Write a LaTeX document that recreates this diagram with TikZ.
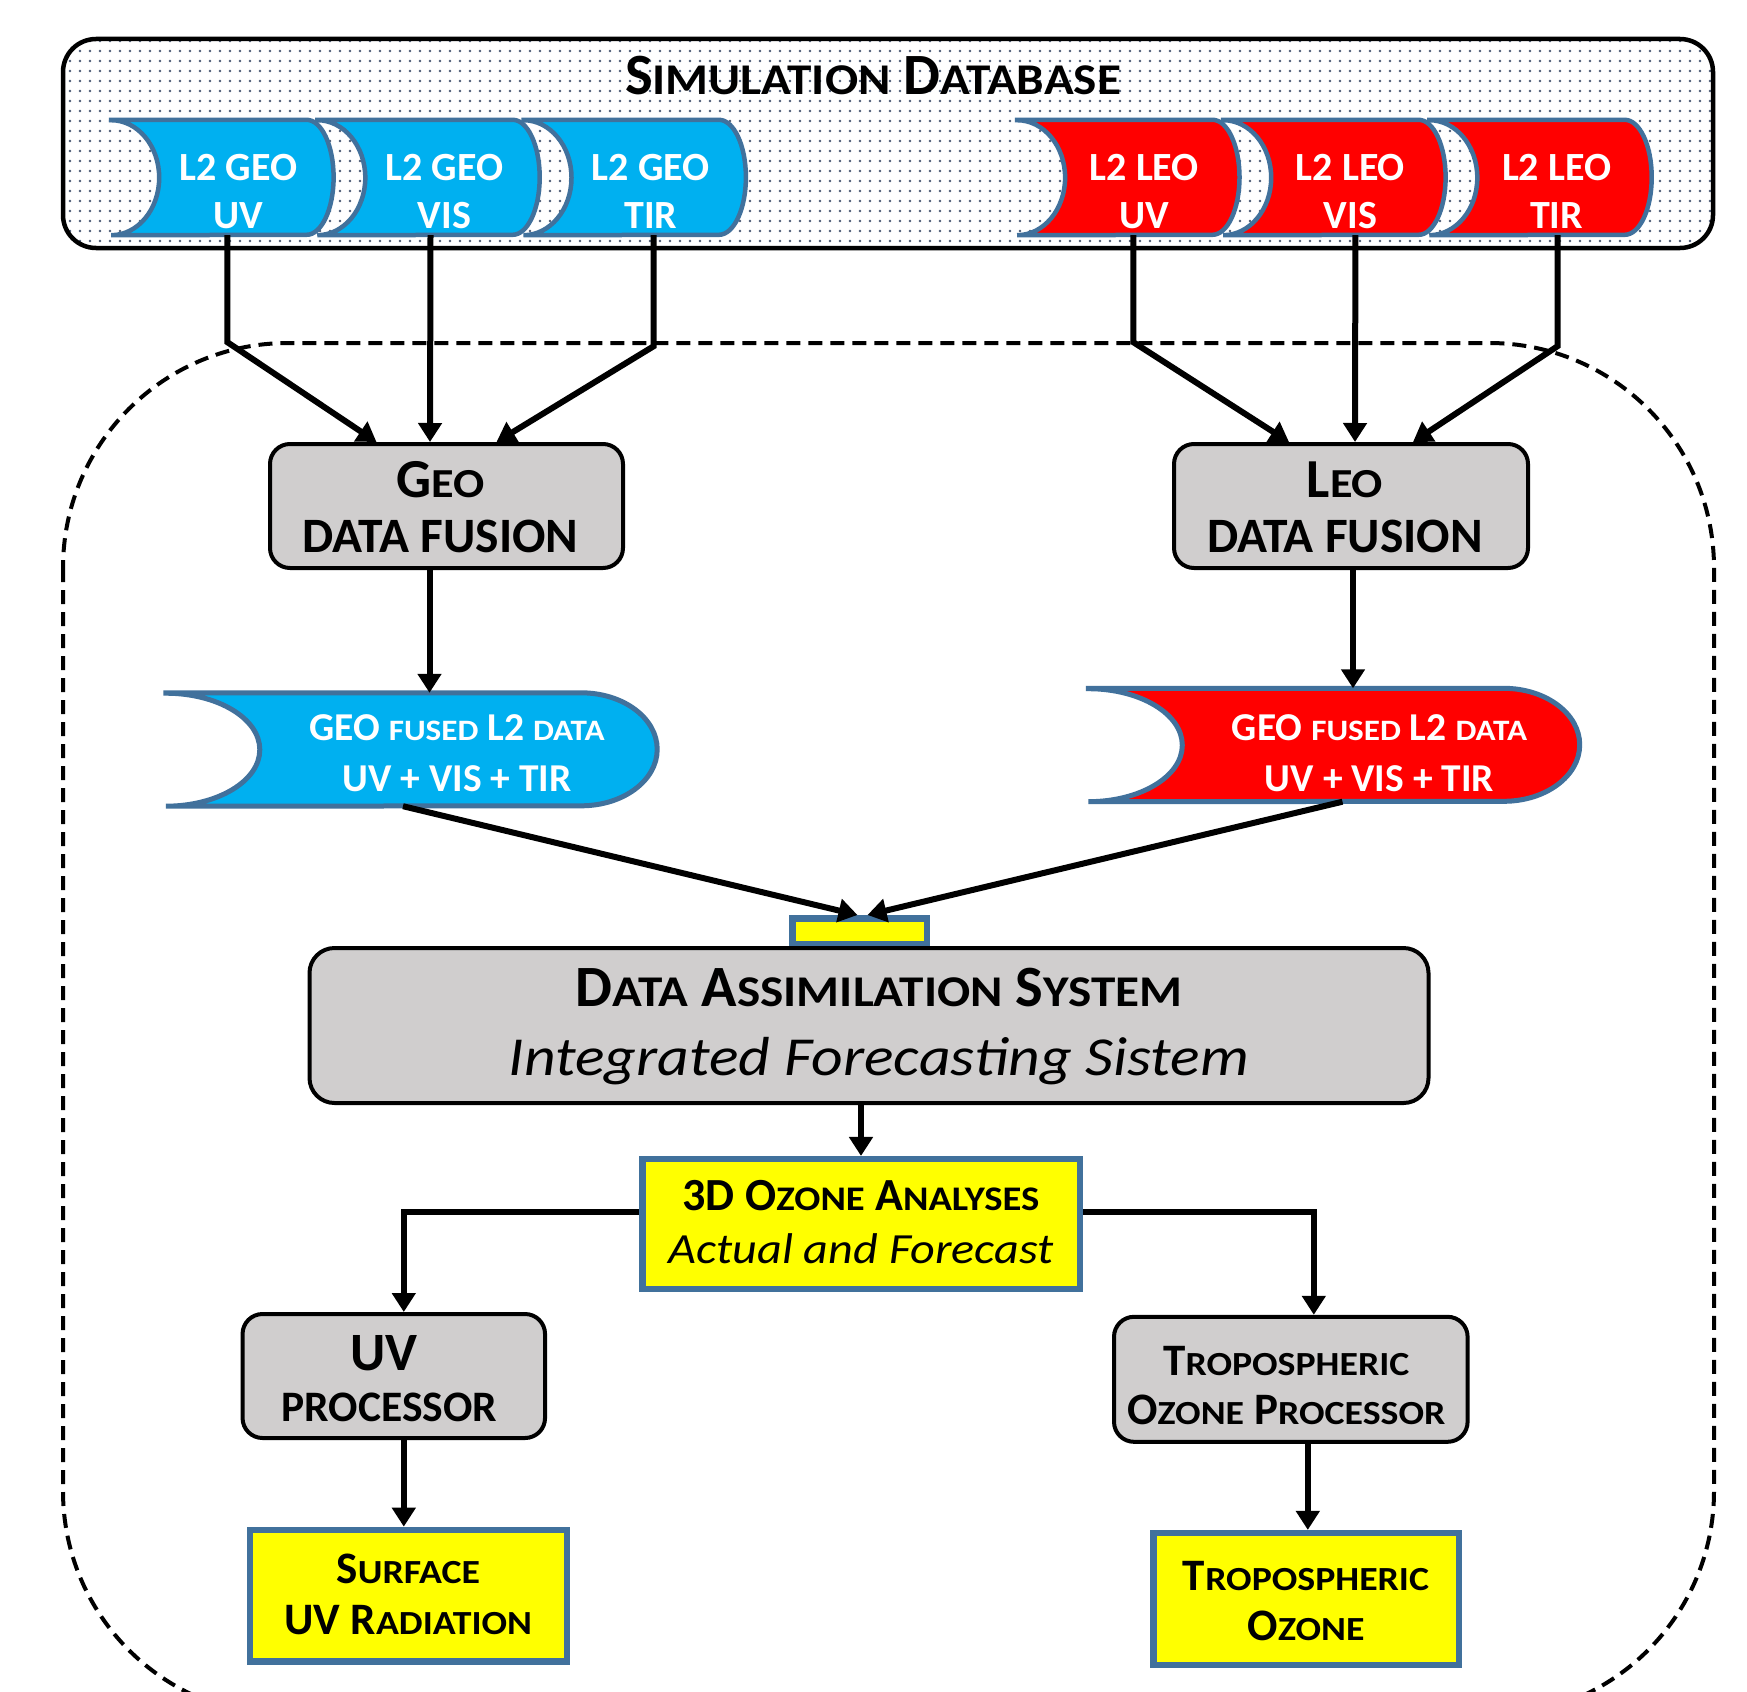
\documentclass[tikz,border=0pt]{standalone}
\usepackage{fontspec}
\setmainfont{Carlito}
\newfontfamily\itfam{Carlito}[FakeStretch=1.12]
\usetikzlibrary{arrows.meta,patterns,calc}
\definecolor{geoblue}{HTML}{00B0F0}
\definecolor{leored}{HTML}{FF0000}
\definecolor{edgeblue}{HTML}{41719C}
\definecolor{boxgray}{HTML}{D0CECE}
\definecolor{hiyellow}{HTML}{FFFF00}
\definecolor{dotc}{HTML}{4A5A75}
\makeatletter
\newcommand\smc[1]{{\fontsize{\fpeval{0.75*\f@size}}{\f@baselineskip}\selectfont\addfontfeature{FakeStretch=1.12}#1}}
\makeatother
\newcommand\hs[1]{\rule{0pt}{#1pt}}
\newcommand\ds[1]{\rule[-#1pt]{0pt}{#1pt}}
\newcommand\pad[1]{\hspace*{#1pt}}
\pgfdeclarepatternformonly{sdots}{\pgfqpoint{-2pt}{-2pt}}{\pgfqpoint{2pt}{2pt}}{\pgfqpoint{10pt}{10pt}}{\pgfpathcircle{\pgfqpoint{0pt}{0pt}}{1.3pt}\pgfusepath{fill}}
\pgfdeclarelayer{bgA}\pgfdeclarelayer{bgB}\pgfsetlayers{bgA,bgB,main}
% stored-data shape behind a node: #1 node, #2 fill, #3 left offset, #4 right radius, #5 concave radius, #6 half height, #7 line width
\newcommand\stored[7]{%
\begin{pgfonlayer}{bgB}
\path[fill=#2, draw=edgeblue, line width=#7pt]
  ([xshift=-#3pt]#1.north west) -- ([xshift=-#4pt]#1.north east)
  arc[start angle=90, end angle=-90, x radius=#4pt, y radius=#6pt]
  -- ([xshift=-#3pt]#1.south west)
  arc[start angle=-90, end angle=90, x radius=#5pt, y radius=#6pt] -- cycle;
\end{pgfonlayer}}
\tikzset{
 l2txt/.style={inner sep=0pt, minimum width=190pt, minimum height=115pt, text=white, align=center, font=\fontsize{40}{48}\selectfont\bfseries},
 fusedtxt/.style={inner sep=0pt, minimum width=400pt, minimum height=113pt, text=white, align=center, font=\fontsize{39.5}{50.6}\selectfont\bfseries},
 graybox/.style={draw=black, line width=4pt, fill=boxgray, rounded corners=20pt, inner sep=0pt, align=center},
 yelbox/.style={draw=edgeblue, line width=6.5pt, fill=hiyellow, inner sep=0pt, align=center},
 conn/.style={line width=6pt, -{Triangle[length=19pt,width=23pt]}},
 dashline/.style={line width=4pt, dash pattern=on 14pt off 8pt, rounded corners=225pt},
}
\begin{document}
\begin{tikzpicture}[x=1pt,y=-1pt]
\useasboundingbox (0,0) rectangle (1747,1691);
\begin{pgfonlayer}{bgA}
\fill[white] (0,0) rectangle (1747,1691);
\draw[line width=4.5pt, rounded corners=33pt, preaction={fill=white}, pattern=sdots, pattern color=dotc] (63,39) rectangle (1713,248);
\begin{scope}
\clip (0,0) rectangle (1747,1691);
\draw[dashline] (63,343) rectangle (1714,1716);
\end{scope}
\end{pgfonlayer}

\node[anchor=base, inner sep=0pt, font=\fontsize{58.5}{60}\selectfont\bfseries] (title) at (873,95) {S\smc{IMULATION} D\smc{ATABASE}};

% L2 products
\node[l2txt] (g1) at (238.4,177.5) {\hs{60}L2 GEO\\UV\ds{6}};
\node[l2txt] (g2) at (444.5,177.5) {\hs{60}L2 GEO\\VIS\ds{6}};
\node[l2txt] (g3) at (650.7,177.5) {\hs{60}L2 GEO\\TIR\ds{6}};
\node[l2txt] (l1) at (1144.3,177.5) {\hs{60}L2 LEO\\UV\ds{6}};
\node[l2txt] (l2) at (1350.4,177.5) {\hs{60}L2 LEO\\VIS\ds{6}};
\node[l2txt] (l3) at (1556.5,177.5) {\hs{60}L2 LEO\\TIR\ds{6}};
\stored{g1}{geoblue}{32}{27}{48}{57.5}{4.5}
\stored{g2}{geoblue}{32}{27}{48}{57.5}{4.5}
\stored{g3}{geoblue}{32}{27}{48}{57.5}{4.5}
\stored{l1}{leored}{32}{27}{48}{57.5}{4.5}
\stored{l2}{leored}{32}{27}{48}{57.5}{4.5}
\stored{l3}{leored}{32}{27}{48}{57.5}{4.5}

% fusion boxes
\node[graybox, minimum width=353pt, minimum height=124pt, font=\fontsize{55}{55}\selectfont\bfseries] (geo) at (446.5,506) {\hs{45}G\smc{EO}\pad{12}\\{\fontsize{49.5}{55}\selectfont DATA FUSION}\pad{12}\ds{8}};
\node[graybox, minimum width=354pt, minimum height=124pt, font=\fontsize{55}{55}\selectfont\bfseries] (leo) at (1351,506) {\hs{45}L\smc{EO}\pad{12}\\{\fontsize{49.5}{55}\selectfont DATA FUSION}\pad{12}\ds{8}};

% fused data
\node[fusedtxt] (fb) at (457,749.5) {\hs{42}GEO \smc{FUSED} L2 \smc{DATA}\\UV + VIS + TIR\ds{9}};
\node[fusedtxt] (fr) at (1379.5,745) {\hs{50}GEO \smc{FUSED} L2 \smc{DATA}\\UV + VIS + TIR\ds{8}};
\stored{fb}{geoblue}{91}{76}{94}{56.5}{5}
\stored{fr}{leored}{91}{76}{94}{56.5}{5}

% assimilation
\node[yelbox, minimum width=134.5pt, minimum height=25.5pt] (sm) at (859.5,931) {};
\node[graybox, rounded corners=25pt, minimum width=1119pt, minimum height=155pt, font=\fontsize{58.5}{69}\selectfont\bfseries] (das) at (869,1025.5) {\pad{20}\hs{45}D\smc{ATA} A\smc{SSIMILATION} S\smc{YSTEM}\\\pad{20}{\itfam\mdseries\itshape\fontsize{55}{69}\selectfont Integrated Forecasting Sistem}\ds{14}};
\node[yelbox, minimum width=437.5pt, minimum height=130pt, font=\fontsize{46}{53}\selectfont\bfseries] (oz) at (861,1224.2) {\hs{38}3D O\smc{ZONE} A\smc{NALYSES}\\{\itfam\mdseries\itshape\fontsize{43}{53}\selectfont Actual and Forecast}\ds{13.4}};

% processors and products
\node[graybox, minimum width=302.5pt, minimum height=124pt, font=\fontsize{43.5}{51.7}\selectfont\bfseries] (uv) at (393.8,1376) {\hs{45}{\fontsize{54}{51.7}\selectfont UV}\pad{19}\\PROCESSOR\pad{9}\ds{5.3}};
\node[yelbox, minimum width=317pt, minimum height=131.8pt, font=\fontsize{45}{51.7}\selectfont\bfseries] (sf) at (408.3,1595.8) {\hs{36}S\smc{URFACE}\\UV R\smc{ADIATION}\ds{9.7}};
\node[graybox, minimum width=353.6pt, minimum height=125pt, font=\fontsize{45}{49}\selectfont\bfseries] (tp) at (1290.8,1379.3) {\hs{45}T\smc{ROPOSPHERIC}\pad{9}\\O\smc{ZONE} P\smc{ROCESSOR}\pad{9}\ds{3}};
\node[yelbox, minimum width=305.5pt, minimum height=131.7pt, font=\fontsize{45}{50}\selectfont\bfseries] (tro) at (1306,1599) {\hs{36}T\smc{ROPOSPHERIC}\\O\smc{ZONE}\ds{4}};

% connectors
\draw[conn] ([xshift=-11pt]g1.south) -- ++(0,107) -- ([xshift=-70pt]geo.north);
\draw[conn] ([xshift=-14pt]g2.south) -- ([xshift=-16.5pt]geo.north);
\draw[conn] ([xshift=3pt]g3.south) -- ++(0,111) -- ([xshift=50pt]geo.north);
\draw[conn] ([xshift=-11pt]l1.south) -- ++(0,107) -- ([xshift=-62pt]leo.north);
\draw[conn] ([xshift=5pt]l2.south) -- ([xshift=4pt]leo.north);
\draw[conn] ([xshift=1pt]l3.south) -- ++(0,111) -- ([xshift=62pt]leo.north);
\draw[conn] ([xshift=-17pt]geo.south) -- ([xshift=-17pt]geo.south |- fb.north);
\draw[conn] ([xshift=2pt]leo.south) -- ([xshift=2pt]leo.south |- fr.north);
\draw[conn] ([xshift=-54pt]fb.south) -- ([xshift=-2pt]sm.north);
\draw[conn] ([xshift=-37pt]fr.south) -- ([xshift=8pt]sm.north);
\draw[conn] ([xshift=-8pt]das.south) -- (oz.north);
\draw[conn] ([yshift=12pt]oz.west) -| ([xshift=10pt]uv.north);
\draw[conn] ([yshift=12pt]oz.east) -| ([xshift=23pt]tp.north);
\draw[conn] ([xshift=10pt]uv.south) -- ([xshift=10pt]uv.south |- sf.north);
\draw[conn] ([xshift=17pt]tp.south) -- ([xshift=17pt]tp.south |- tro.north);
\end{tikzpicture}
\end{document}
